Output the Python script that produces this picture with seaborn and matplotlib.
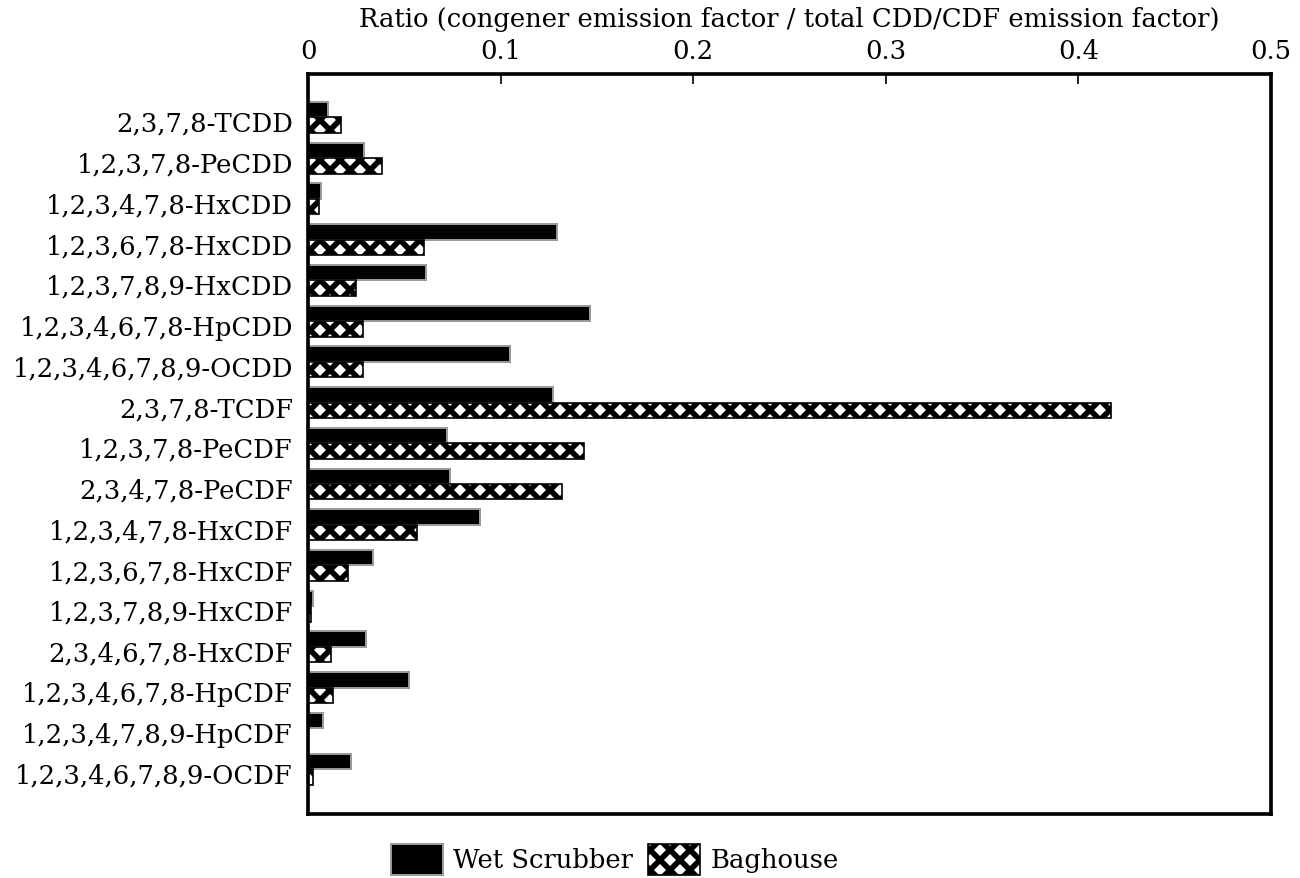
import matplotlib
matplotlib.use("Agg")
import matplotlib.pyplot as plt
import matplotlib.patches as mpatches
import numpy as np
import pandas as pd
import seaborn as sns

congeners = [
    "2,3,7,8-TCDD", "1,2,3,7,8-PeCDD", "1,2,3,4,7,8-HxCDD", "1,2,3,6,7,8-HxCDD",
    "1,2,3,7,8,9-HxCDD", "1,2,3,4,6,7,8-HpCDD", "1,2,3,4,6,7,8,9-OCDD",
    "2,3,7,8-TCDF", "1,2,3,7,8-PeCDF", "2,3,4,7,8-PeCDF", "1,2,3,4,7,8-HxCDF",
    "1,2,3,6,7,8-HxCDF", "1,2,3,7,8,9-HxCDF", "2,3,4,6,7,8-HxCDF",
    "1,2,3,4,6,7,8-HpCDF", "1,2,3,4,7,8,9-HpCDF", "1,2,3,4,6,7,8,9-OCDF",
]
wet_scrubber = [0.0105, 0.0292, 0.0066, 0.1294, 0.0611, 0.1466, 0.1047,
                0.1271, 0.0724, 0.0739, 0.0891, 0.0340, 0.0028, 0.0300,
                0.0523, 0.0079, 0.0222]
baghouse = [0.0169, 0.0383, 0.0059, 0.0601, 0.0249, 0.0285, 0.0285,
            0.4168, 0.1435, 0.1318, 0.0566, 0.0206, 0.0016, 0.0118,
            0.0131, 0.0, 0.0024]
series = ["Wet Scrubber", "Baghouse"]
xticks = [0, 0.1, 0.2, 0.3, 0.4, 0.5]
xtick_labels = ["0", "0.1", "0.2", "0.3", "0.4", "0.5"]

df = pd.DataFrame({
    "congener": congeners * 2,
    "ratio": wet_scrubber + baghouse,
    "source": [series[0]] * len(congeners) + [series[1]] * len(congeners),
})

sns.set_theme(style="white")
plt.rcParams["font.family"] = ["DejaVu Serif"]
plt.rcParams["text.color"] = "black"
plt.rcParams["hatch.linewidth"] = 3.4

fig = plt.figure(figsize=(1300 / 120, 878 / 120), dpi=120)
ax = fig.add_axes([308 / 1300, 1 - 814 / 878, 963 / 1300, 740 / 878])

sns.barplot(data=df, x="ratio", y="congener", hue="source", order=congeners,
            hue_order=series, orient="h", width=0.76, dodge=True,
            palette=["black", "white"], legend=False, ax=ax)

# style the two series like the original
for bar in ax.containers[0]:
    bar.set_facecolor("black")
    bar.set_edgecolor("#9a9a9a")
    bar.set_linewidth(1.2)
for bar in ax.containers[1]:
    bar.set_facecolor("white")
    bar.set_edgecolor("black")
    bar.set_hatch("xx")
    bar.set_linewidth(1.0)

ax.set_xlim(0, 0.5)
ax.set_ylim(17.1, -1.063)
ax.xaxis.tick_top()
ax.xaxis.set_label_position("top")
ax.set_xticks(xticks)
ax.set_xticklabels(xtick_labels, fontsize=15.5, color="black")
ax.tick_params(axis="x", direction="in", length=6, width=1, pad=6, colors="black")
ax.set_yticks(np.arange(len(congeners)) + 0.115)
ax.set_yticklabels(congeners, fontsize=15.5, color="black")
ax.tick_params(axis="y", length=0, pad=9)
ax.set_ylabel("")
ax.set_xlabel("Ratio (congener emission factor / total CDD/CDF emission factor)",
              fontsize=15.5, color="black")
ax.xaxis.set_label_coords(0.5, 1.063)
for sp in ax.spines.values():
    sp.set_visible(True)
    sp.set_color("black")
    sp.set_linewidth(2.2)

handles = [
    mpatches.Patch(facecolor="black", edgecolor="#9a9a9a", linewidth=1.2, label=series[0]),
    mpatches.Patch(facecolor="white", edgecolor="black", hatch="xx", linewidth=1.0, label=series[1]),
]
fig.legend(handles=handles, loc="center", bbox_to_anchor=(0.473, 0.021), ncol=2,
           frameon=False, fontsize=15.5, handlelength=2.0, handleheight=1.5,
           handletextpad=0.4, columnspacing=0.6)

fig.savefig("out.png", dpi=120)
